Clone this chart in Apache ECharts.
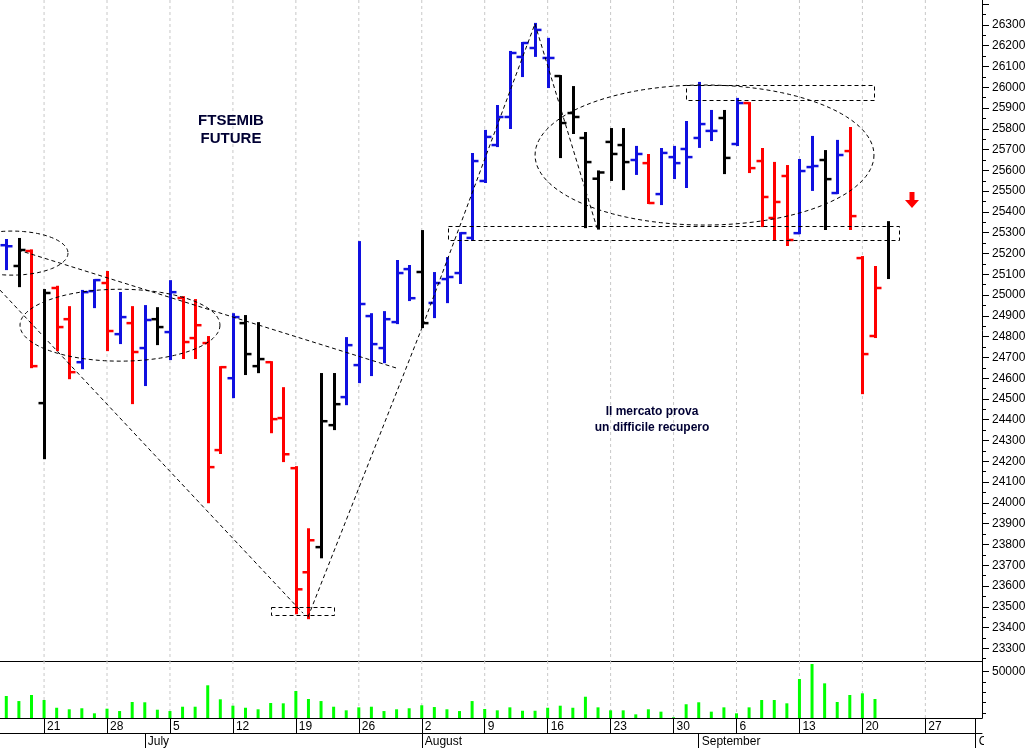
<!DOCTYPE html>
<html><head><meta charset="utf-8">
<script src="https://cdn.jsdelivr.net/npm/echarts@6/dist/echarts.min.js"></script>
<style>html,body{margin:0;padding:0;background:#fff}#c{width:1030px;height:748px}</style>
</head><body><div id="c"></div>
<script>
// ---------------- DATA ----------------
const dates = [
 '2021-06-16','2021-06-17','2021-06-18',
 '2021-06-21','2021-06-22','2021-06-23','2021-06-24','2021-06-25',
 '2021-06-28','2021-06-29','2021-06-30','2021-07-01','2021-07-02',
 '2021-07-05','2021-07-06','2021-07-07','2021-07-08','2021-07-09',
 '2021-07-12','2021-07-13','2021-07-14','2021-07-15','2021-07-16',
 '2021-07-19','2021-07-20','2021-07-21','2021-07-22','2021-07-23',
 '2021-07-26','2021-07-27','2021-07-28','2021-07-29','2021-07-30',
 '2021-08-02','2021-08-03','2021-08-04','2021-08-05','2021-08-06',
 '2021-08-09','2021-08-10','2021-08-11','2021-08-12','2021-08-13',
 '2021-08-16','2021-08-17','2021-08-18','2021-08-19','2021-08-20',
 '2021-08-23','2021-08-24','2021-08-25','2021-08-26','2021-08-27',
 '2021-08-30','2021-08-31','2021-09-01','2021-09-02','2021-09-03',
 '2021-09-06','2021-09-07','2021-09-08','2021-09-09','2021-09-10',
 '2021-09-13','2021-09-14','2021-09-15','2021-09-16','2021-09-17',
 '2021-09-20','2021-09-21','2021-09-22','2021-09-23','2021-09-24',
 '2021-09-27','2021-09-28','2021-09-29','2021-09-30','2021-10-01'
];
const openP  = [25240,25140,25212,24480,25034,24884,24677,25019,25058,24812,24865,24745,24884,24822,24986,24793,24769,24254,24600,24865,24658,24677,24408,24167,23666,23787,24374,24509,24663,24899,24745,24870,25125,25111,24962,25077,25106,25275,25549,25722,25857,26146,26189,26141,26054,25876,25756,25560,25737,25722,25650,25635,25486,25664,25703,25756,25790,25852,25727,25924,25645,25371,25573,25298,25616,25650,25491,25693,25178,24803,null];
const highP  = [25265,25270,25215,25024,25040,24942,25020,25072,25111,25010,24942,24947,24937,25067,24990,24976,24798,24653,24908,24899,24865,24677,24552,24172,23873,24620,24620,24793,25255,24908,24918,25164,25140,25308,25106,25178,25298,25679,25790,25910,26170,26213,26305,26233,26054,26001,25780,25595,25799,25799,25713,25674,25703,25713,25833,26021,25886,25886,25944,25924,25703,25636,25621,25650,25761,25693,25742,25804,25183,25135,25351];
const lowP   = [25125,25043,24653,24215,24735,24600,24648,24942,24735,24769,24480,24567,24764,24692,24697,24697,24003,24240,24509,24620,24629,24340,24201,23469,23445,23738,24355,24475,24581,24615,24677,24865,24976,24846,24894,24966,25058,25265,25544,25717,25804,26054,26151,26001,25664,25780,25327,25320,25554,25510,25583,25443,25438,25563,25520,25713,25746,25587,25722,25592,25332,25265,25241,25298,25506,25318,25491,25318,24528,24798,25082];
const closeP = [25235,25217,24658,25010,24846,24629,25014,25072,24827,24894,24726,24880,24846,25014,24774,24855,24172,24653,24894,24716,24692,24403,24234,23584,23820,24393,24475,24759,24957,24764,24884,25106,24985,24865,25058,25087,25298,25645,25761,25857,26165,26213,26276,26141,25828,25857,25640,25590,25679,25640,25679,25443,25684,25635,25664,25823,25790,25660,25924,25611,25472,25448,25265,25597,25621,25558,25674,25380,24716,25034,null];
const barColor = ['b','k','r','k','r','r','b','b','r','b','r','b','k','b','r','r','r','r','b','k','k','r','r','r','r','k','k','b','b','b','b','b','b','k','b','b','b','b','b','b','b','b','b','b','k','k','k','k','k','k','b','r','b','b','b','b','b','k','b','r','r','r','r','b','b','k','b','r','r','r','k'];
const volume = [26400,21500,27400,22500,15000,13500,14500,9600,14100,11800,20600,20300,13100,11800,16000,16000,36800,23200,17000,15000,13500,19600,19300,31300,23500,21500,16000,12500,15400,16000,11800,13500,14500,17400,15700,13500,11800,21500,13800,12500,15400,12100,12100,15000,17000,15000,25700,15400,12500,12500,8600,13500,11200,5700,18400,20300,11200,15400,9600,15400,22500,22500,19300,42900,57500,38700,20600,27400,29000,23500];

const weekDates  = ['2021-06-21','2021-06-28','2021-07-05','2021-07-12','2021-07-19','2021-07-26','2021-08-02','2021-08-09','2021-08-16','2021-08-23','2021-08-30','2021-09-06','2021-09-13','2021-09-20','2021-09-27'];
const weekLabels = ['21','28','5','12','19','26','2','9','16','23','30','6','13','20','27'];
const monthDates  = ['2021-07-01','2021-08-02','2021-09-01','2021-10-01'];
const monthLabels = ['July','August','September','October'];
const priceLabels = [23300,23400,23500,23600,23700,23800,23900,24000,24100,24200,24300,24400,24500,24600,24700,24800,24900,25000,25100,25200,25300,25400,25500,25600,25700,25800,25900,26000,26100,26200,26300];
const priceMajorTicks = [23300,23400,23500,23600,23700,23800,23900,24000,24100,24200,24300,24400,24500,24600,24700,24800,24900,25000,25100,25200,25300,25400,25500,25600,25700,25800,25900,26000,26100,26200,26300,26400];
const priceMinorTicks = [23250,23350,23450,23550,23650,23750,23850,23950,24050,24150,24250,24350,24450,24550,24650,24750,24850,24950,25050,25150,25250,25350,25450,25550,25650,25750,25850,25950,26050,26150,26250,26350];
const volLabels = [50000];
const volMinorTicks = [10000,20000,30000,40000];

// annotations in data space: [index, price, ...]
const ellipses = [[0.45,25202,4.45,106],[9.03,24855,7.94,173],[55.46,25674,13.46,337]];
const zones = [[21.03,23498,26.03,23459],[35.08,25332,70.9,25265],[53.99,26011,68.92,25939]];
const segments = [[-0.5,25024,23.57,23469],[0.93,25217,31.03,24648],[23.96,23450,33.1,24855],[33.1,24855,41.99,26305],[41.99,26305,46.92,25323]];
const arrows = [[71.94,25496]];

// ---------------- CHART ----------------
const COL = {b:'#1010e0', r:'#ff0000', k:'#000000'};
const FONT = '"Liberation Sans", Arial, sans-serif';
const weekIdx = new Set(weekDates.map(d => dates.indexOf(d)));
const monthIdx = new Set(monthDates.map(d => dates.indexOf(d)));
const lastIdx = dates.length - 1;

function xPix(api, xi, p) {
  const a = api.coord([0, p]), b = api.coord([1, p]);
  return [a[0] + xi * (b[0] - a[0]), a[1]];
}
const dash = {stroke:'#000', lineWidth:1, lineDash:[4,3], fill:null};
const plain = (v) => String(Math.round(v));

const ohlcData = highP.map((h, i) => ({value:[i, openP[i], h, lowP[i], closeP[i]]}));

const chart = echarts.init(document.getElementById('c'), null, {renderer:'canvas'});
chart.setOption({
  animation:false,
  backgroundColor:'#fff',
  grid:[
    {left:0, right:48, top:0, height:661, outerBoundsMode:'none'},
    {left:0, right:48, top:661, height:57, outerBoundsMode:'none'}
  ],
  xAxis:[
    {type:'category', gridIndex:0, data:dates, boundaryGap:true,
     axisLine:{show:true, lineStyle:{color:'#000', width:1}}, axisTick:{show:false}, axisLabel:{show:false}, splitLine:{show:false}},
    {type:'category', gridIndex:1, data:dates, boundaryGap:true, position:'bottom',
     axisLine:{show:true, lineStyle:{color:'#000', width:1}},
     axisTick:{show:true, alignWithLabel:true, length:15, interval:(i)=>weekIdx.has(i)||i===lastIdx, lineStyle:{color:'#000'}},
     axisLabel:{show:true, interval:(i)=>weekIdx.has(i), align:'left', margin:3, padding:[0,0,0,3],
       formatter:(v)=>weekLabels[weekDates.indexOf(v)], fontSize:12, fontFamily:FONT, color:'#000'},
     splitLine:{show:false}},
    {type:'category', gridIndex:1, data:dates, boundaryGap:true, position:'bottom', offset:15,
     axisLine:{show:true, lineStyle:{color:'#000', width:1}},
     axisTick:{show:true, alignWithLabel:true, length:15, interval:(i)=>monthIdx.has(i), lineStyle:{color:'#000'}},
     axisLabel:{show:true, interval:(i)=>monthIdx.has(i), align:'left', margin:3, padding:[0,0,0,3],
       formatter:(v)=>monthLabels[monthDates.indexOf(v)], fontSize:12, fontFamily:FONT, color:'#000'},
     splitLine:{show:false}}
  ],
  yAxis:[
    {type:'value', gridIndex:0, position:'right', min:23239, max:26420,
     axisLine:{show:true, lineStyle:{color:'#000'}},
     axisTick:{show:true, length:7, customValues:priceMajorTicks, lineStyle:{color:'#000'}},
     axisLabel:{show:true, customValues:priceLabels, formatter:plain, margin:10, fontSize:12, fontFamily:FONT, color:'#000'},
     splitLine:{show:false}},
    {type:'value', gridIndex:1, position:'right', min:5050, max:60390,
     axisLine:{show:true, lineStyle:{color:'#000'}},
     axisTick:{show:true, length:7, customValues:volLabels, lineStyle:{color:'#000'}},
     axisLabel:{show:true, customValues:volLabels, formatter:plain, margin:10, fontSize:12, fontFamily:FONT, color:'#000'},
     splitLine:{show:false}},
    {type:'value', gridIndex:0, position:'right', min:23239, max:26420,
     axisLine:{show:false}, axisLabel:{show:false, customValues:priceMinorTicks},
     axisTick:{show:true, length:4, customValues:priceMinorTicks, lineStyle:{color:'#000'}}, splitLine:{show:false}},
    {type:'value', gridIndex:1, position:'right', min:5050, max:60390,
     axisLine:{show:false}, axisLabel:{show:false, customValues:volMinorTicks},
     axisTick:{show:true, length:4, customValues:volMinorTicks, lineStyle:{color:'#000'}}, splitLine:{show:false}}
  ],
  series:[
    // weekly dashed grid lines, price panel
    {type:'custom', xAxisIndex:0, yAxisIndex:0, z:1, silent:true,
     data:[...weekIdx].map(i=>[i, 25000]),
     renderItem:(params, api)=>{
       const x = api.coord([api.value(0), 25000])[0]; const cs = params.coordSys;
       return {type:'line', shape:{x1:x, y1:cs.y, x2:x, y2:cs.y+cs.height}, style:{stroke:'#c8c8c8', lineWidth:1, lineDash:[3,3]}};
     }},
    // weekly dashed grid lines, volume panel
    {type:'custom', xAxisIndex:1, yAxisIndex:1, z:1, silent:true,
     data:[...weekIdx].map(i=>[i, 20000]),
     renderItem:(params, api)=>{
       const x = api.coord([api.value(0), 20000])[0]; const cs = params.coordSys;
       return {type:'line', shape:{x1:x, y1:cs.y, x2:x, y2:cs.y+cs.height}, style:{stroke:'#c8c8c8', lineWidth:1, lineDash:[3,3]}};
     }},
    // OHLC bars
    {type:'custom', name:'FTSEMIB', xAxisIndex:0, yAxisIndex:0, z:3, clip:true,
     encode:{x:0, y:[2,3]},
     data:ohlcData,
     renderItem:(params, api)=>{
       const i = api.value(0);
       const o = openP[i], h = highP[i], l = lowP[i], c = closeP[i];
       const col = COL[barColor[i]];
       const t = api.coord([i, h]), b = api.coord([i, l]);
       const x = Math.round(t[0]) + 0.5;
       const ch = [{type:'line', shape:{x1:x, y1:t[1]-1, x2:x, y2:b[1]+1}, style:{stroke:col, lineWidth:3}}];
       if (o != null) { const yo = api.coord([i, o])[1]; ch.push({type:'line', shape:{x1:x-6, y1:yo, x2:x, y2:yo}, style:{stroke:col, lineWidth:2.5}}); }
       if (c != null) { const yc = api.coord([i, c])[1]; ch.push({type:'line', shape:{x1:x, y1:yc, x2:x+6, y2:yc}, style:{stroke:col, lineWidth:2.5}}); }
       return {type:'group', children:ch};
     }},
    // volume
    {type:'bar', name:'Volume', xAxisIndex:1, yAxisIndex:1, data:volume, barWidth:3, z:3,
     itemStyle:{color:'#00ff00'}},
    // annotations: ellipses
    {type:'custom', xAxisIndex:0, yAxisIndex:0, z:4, silent:true, clip:true,
     data:ellipses.map((e,k)=>[k, 25000]),
     renderItem:(params, api)=>{
       const e = ellipses[params.dataIndex];
       const c = xPix(api, e[0], e[1]);
       const rx = xPix(api, e[0]+e[2], e[1])[0] - c[0];
       const ry = c[1] - api.coord([0, e[1]+e[3]])[1];
       const pts = [];
       for (let a = 0; a <= 120; a++) { const th = a/120*Math.PI*2; pts.push([c[0]+rx*Math.cos(th), c[1]+ry*Math.sin(th)]); }
       return {type:'polyline', shape:{points:pts}, style:dash};
     }},
    // annotations: zones
    {type:'custom', xAxisIndex:0, yAxisIndex:0, z:4, silent:true, clip:true,
     data:zones.map((e,k)=>[k, 25000]),
     renderItem:(params, api)=>{
       const z = zones[params.dataIndex];
       const p1 = xPix(api, z[0], z[1]), p2 = xPix(api, z[2], z[3]);
       return {type:'rect', shape:{x:Math.round(p1[0])+0.5, y:Math.round(p1[1])+0.5, width:Math.round(p2[0]-p1[0]), height:Math.round(p2[1]-p1[1])}, style:dash};
     }},
    // annotations: trend lines
    {type:'custom', xAxisIndex:0, yAxisIndex:0, z:4, silent:true, clip:true,
     data:segments.map((e,k)=>[k, 25000]),
     renderItem:(params, api)=>{
       const s = segments[params.dataIndex];
       const p1 = xPix(api, s[0], s[1]), p2 = xPix(api, s[2], s[3]);
       return {type:'line', shape:{x1:p1[0], y1:p1[1], x2:p2[0], y2:p2[1]}, style:dash};
     }},
    // annotation: red arrow
    {type:'custom', xAxisIndex:0, yAxisIndex:0, z:4, silent:true,
     data:arrows.map((e,k)=>[k, 25000]),
     renderItem:(params, api)=>{
       const a = arrows[params.dataIndex];
       const p = xPix(api, a[0], a[1]);
       return {type:'group', children:[
         {type:'rect', shape:{x:p[0]-2.5, y:p[1], width:5, height:8.5}, style:{fill:'#ff0000'}},
         {type:'polygon', shape:{points:[[p[0]-7,p[1]+8],[p[0]+7,p[1]+8],[p[0],p[1]+16]]}, style:{fill:'#ff0000'}}
       ]};
     }}
  ],
  graphic:[
    {type:'text', x:231, y:121, z:10, style:{text:'FTSEMIB', textAlign:'center', textVerticalAlign:'middle', font:'bold 15px "Liberation Sans", Arial', fill:'#000033'}},
    {type:'text', x:231, y:139, z:10, style:{text:'FUTURE', textAlign:'center', textVerticalAlign:'middle', font:'bold 15px "Liberation Sans", Arial', fill:'#000033'}},
    {type:'text', x:652, y:412, z:10, style:{text:'Il mercato prova', textAlign:'center', textVerticalAlign:'middle', font:'bold 12px "Liberation Sans", Arial', fill:'#000033'}},
    {type:'text', x:652, y:428, z:10, style:{text:'un difficile recupero', textAlign:'center', textVerticalAlign:'middle', font:'bold 12px "Liberation Sans", Arial', fill:'#000033'}},
    {type:'rect', shape:{x:984, y:719, width:46, height:29}, z:100, style:{fill:'#fff'}}
  ]
});
</script>
</body></html>
